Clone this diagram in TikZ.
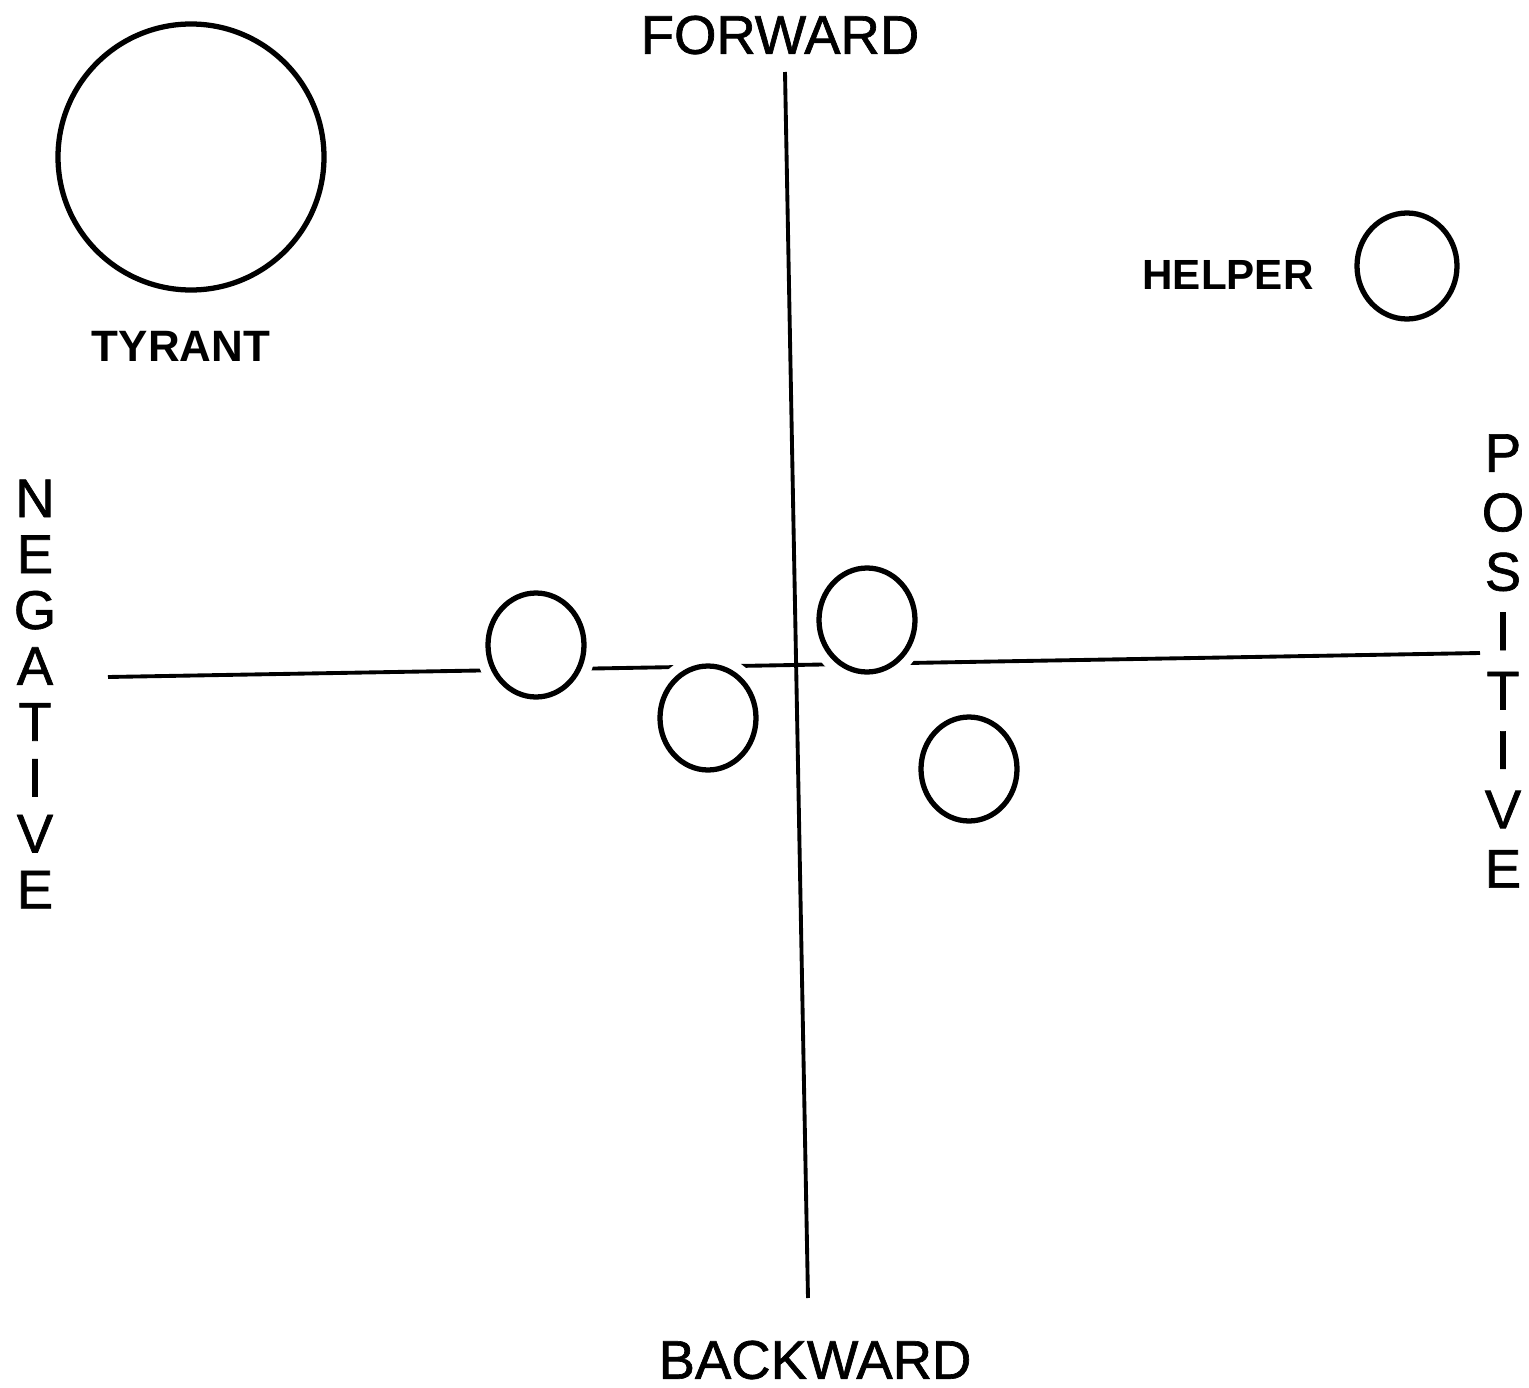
\documentclass[tikz,border=0pt]{standalone}
\usepackage{fontspec}
\setmainfont{Liberation Sans}
\newfontfamily\plotfont[FakeBold=1.2]{Liberation Sans}
\usepackage{tikz}
\usetikzlibrary{shapes.geometric, positioning, calc}
\tikzstyle{axis} = [line width=1.1pt, black]
\tikzstyle{blob} = [ellipse, draw=black, line width=1.5pt, fill=white, inner sep=0pt, minimum width=0.96cm, minimum height=1.04cm, preaction={draw=white, line width=7pt}]
\tikzstyle{axislabel} = [font=\plotfont\fontsize{15.5}{16}\selectfont, inner sep=0pt]
\tikzstyle{sidelabel} = [align=center, inner sep=0pt]
\tikzstyle{namelabel} = [font=\fontsize{12.5}{14}\selectfont\bfseries, inner sep=0pt]

\begin{document}
\begin{tikzpicture}
    \useasboundingbox (0,0) rectangle (15.29,13.87);

    % Etiquetas de los ejes
    \node (fwd) [axislabel] at (7.80,13.52) {FORWARD};
    \node (bwd) [axislabel] at (8.15,0.27) {BACKWARD};
    \node (neg) [sidelabel, font=\plotfont\fontsize{15.5}{15.9}\selectfont] at (0.35,6.93) {N\\E\\G\\A\\T\\I\\V\\E};
    \node (pos) [sidelabel, font=\plotfont\fontsize{15.5}{16.9}\selectfont] at (15.03,7.26) {P\\O\\S\\I\\T\\I\\V\\E};

    % Extremos de los ejes
    \coordinate (ytop) at (7.85,13.15);
    \coordinate (ybot) at (8.08,0.89);
    \coordinate (xleft) at (1.08,7.10);
    \coordinate (xright) at (14.80,7.34);

    % Ejes
    \draw [axis] (ytop) -- (ybot);
    \draw [axis] (xleft) -- (xright);

    % Circulos
    \node (tyrant) [circle, draw=black, line width=1.5pt, minimum size=2.66cm] at (1.91,12.30) {};
    \node (tyrantlbl) [namelabel] at (1.81,10.41) {TYRANT};
    \node (helper) [blob, minimum width=1.0cm, minimum height=1.06cm] at (14.07,11.21) {};
    \node (helperlbl) [namelabel, font=\fontsize{12}{14}\selectfont\bfseries] at (12.28,11.12) {HELPER};

    \node (c1) [blob] at (5.36,7.42) {};
    \node (c2) [blob] at (7.08,6.69) {};
    \node (c3) [blob] at (8.67,7.67) {};
    \node (c4) [blob] at (9.69,6.18) {};
\end{tikzpicture}
\end{document}
